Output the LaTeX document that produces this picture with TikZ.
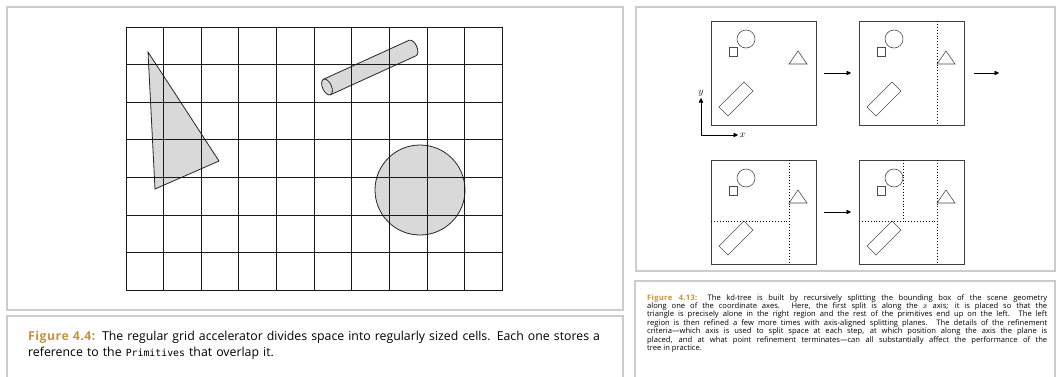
\documentclass[tikz,border=0pt]{standalone}
\usepackage{fontspec}
\setmainfont{Open Sans}
\setmonofont{DejaVu Sans Mono}[Scale=0.8]
\usetikzlibrary{arrows.meta,positioning}
\definecolor{figgold}{RGB}{196,148,64}
\definecolor{panelgray}{RGB}{204,204,204}
\newcommand{\figlabel}[1]{\textcolor{figgold}{\textbf{\addfontfeature{LetterSpace=4}#1}}}

% the four primitives of the kd-tree panels, in box coordinates
\tikzset{prims/.pic={
  \draw[outl] (35,18) circle[radius=9];
  \draw[outl] (18,26) rectangle (26,35);
  \draw[outl] (78,43) -- (96,43) -- (87,30) -- cycle;
  \draw[outl] (8,86) -- (17,95) -- (42,70) -- (33,61) -- cycle;
}}

\begin{document}
\begin{tikzpicture}[x=1pt,y=-1pt,
  panel/.style={draw=panelgray,line width=1.3pt},
  prim/.style={draw=black!85,line width=0.8pt,fill=black!15},
  gridline/.style={black!90,line width=1pt},
  kdbox/.style={draw=black!75,line width=0.9pt,minimum width=105pt,minimum height=104pt,inner sep=0pt,outer sep=0pt},
  outl/.style={draw=black!70,line width=0.6pt},
  splitline/.style={dotted,line width=0.9pt},
  stepto/.style={-{Triangle[length=4.5pt,width=4.5pt]},line width=0.6pt},
  capt/.style={inner sep=0pt,anchor=base west},
  node distance=35pt and 43pt]
  \useasboundingbox (0,0) rectangle (1056,376);
  \fill[white] (0,0) rectangle (1056,376);

  % panels and caption boxes
  \draw[panel] (7,7) rectangle (623,310);
  \draw[panel] (7,377) -- (7,316) -- (623,316) -- (623,377);
  \draw[panel] (636,7) rectangle (1055,271);
  \draw[panel] (635,377) -- (635,281) -- (1055,281) -- (1055,377);

  % primitives under the grid
  \filldraw[prim] (148,52) -- (219,161) -- (155,189) -- cycle;
  \filldraw[prim] (420,190) circle[radius=45];
  \begin{scope}[shift={(327,87)},rotate=24.5,x=1pt,y=1pt]
    \filldraw[prim] (0,8.5) -- (94,8.5) arc[start angle=90,end angle=-90,x radius=4.5,y radius=8.5] -- (0,-8.5) -- cycle;
    \filldraw[prim] (0,0) ellipse[x radius=4.5,y radius=8.5];
  \end{scope}

  % regular grid
  \foreach \i in {0,...,10}
    \draw[gridline] ({126+37.65*\i},27) -- ({126+37.65*\i},290.5);
  \foreach \j in {0,...,7}
    \draw[gridline] (126,{27+37.64*\j}) -- (502.5,{27+37.64*\j});

  % kd-tree steps
  \node[kdbox] (b1) at (763.5,73) {};
  \node[kdbox,right=of b1] (b2) {};
  \node[kdbox,below=of b1] (b3) {};
  \node[kdbox,right=of b3] (b4) {};
  \foreach \b in {b1,b2,b3,b4}
    \pic at (\b.north west) {prims};

  \begin{scope}[shift={(b2.north west)}]
    \draw[splitline] (78,0) -- (78,104);
  \end{scope}
  \begin{scope}[shift={(b3.north west)}]
    \draw[splitline] (78,0) -- (78,104);
    \draw[splitline] (0,61) -- (78,61);
  \end{scope}
  \begin{scope}[shift={(b4.north west)}]
    \draw[splitline] (78,0) -- (78,104);
    \draw[splitline] (0,61) -- (78,61);
    \draw[splitline] (44,0) -- (44,61);
  \end{scope}

  \coordinate (next) at ([xshift=35pt]b2.east);
  \draw[stepto] ([xshift=8pt]b1.east) -- ([xshift=-8pt]b2.west);
  \draw[stepto] ([xshift=10pt]b2.east) -- (next);
  \draw[stepto] ([xshift=8pt]b3.east) -- ([xshift=-8pt]b4.west);

  % axes
  \coordinate (o) at (701,135);
  \coordinate (ytip) at (701,98);
  \coordinate (xtip) at (738,135);
  \draw[{Triangle[length=4.5pt,width=4.5pt]}-{Triangle[length=4.5pt,width=4.5pt]},line width=0.6pt] (ytip) -- (o) -- (xtip);
  \node[inner sep=1pt,above,font=\fontsize{10}{10}\selectfont] (ylab) at (ytip) {$y$};
  \node[inner sep=1.5pt,right,font=\fontsize{10}{10}\selectfont] (xlab) at (xtip) {$x$};

  % captions
  \node[capt,text width=590pt,align=left,font=\fontsize{12.3}{16}\selectfont] (cap44) at (28,340)
    {\figlabel{Figure 4.4:} The regular grid accelerator divides space into regularly sized cells. Each one stores a\\
     reference to the \texttt{Primitives} that overlap it.};
  \node[capt,text width=400pt,align=justify,font=\fontsize{7.6}{8.45}\selectfont] (cap413) at (647,300)
    {\figlabel{Figure 4.13:} The kd-tree is built by recursively splitting the bounding box of the scene geometry\linebreak
     along one of the coordinate axes. Here, the first split is along the $x$ axis; it is placed so that the\linebreak
     triangle is precisely alone in the right region and the rest of the primitives end up on the left. The left\linebreak
     region is then refined a few more times with axis-aligned splitting planes. The details of the refinement\linebreak
     criteria---which axis is used to split space at each step, at which position along the axis the plane is\linebreak
     placed, and at what point refinement terminates---can all substantially affect the performance of the\linebreak
     tree in practice.};
\end{tikzpicture}
\end{document}
